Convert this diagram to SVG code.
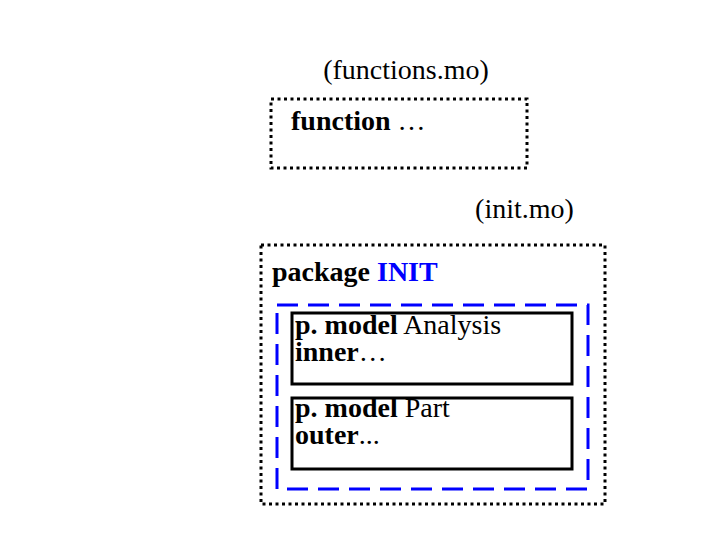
<svg xmlns="http://www.w3.org/2000/svg" width="720" height="540" viewBox="0 0 720 540">
<style>
text{font-family:"Liberation Serif","Times New Roman",serif;font-size:28px;fill:#000}
.b{font-weight:bold}
.blue{fill:#0000ff}
.dot{fill:none;stroke:#000;stroke-width:3;stroke-dasharray:3 3.5}
.dash{fill:none;stroke:#0000ff;stroke-width:3;stroke-dasharray:21 10}
.solid{fill:none;stroke:#000;stroke-width:3}
</style>
<rect width="720" height="540" fill="#fff"/>
<g id="functions">
<text x="406" y="79" text-anchor="middle">(functions.mo)</text>
<rect class="dot" x="271" y="99" width="256" height="69"/>
<text x="291" y="130"><tspan class="b">function</tspan> …</text>
</g>
<g id="init">
<text x="524.5" y="218" text-anchor="middle">(init.mo)</text>
<rect class="dot" x="261" y="245" width="344" height="259"/>
<text x="272" y="281"><tspan class="b">package</tspan> <tspan class="b blue">INIT</tspan></text>
</g>
<g id="group">
<rect class="dash" x="277" y="305" width="311" height="184"/>
</g>
<g id="analysis">
<rect class="solid" x="292" y="313" width="280" height="71"/>
<text x="295" y="334"><tspan class="b">p. model</tspan> Analysis</text>
<text x="295" y="361"><tspan class="b">inner</tspan>…</text>
</g>
<g id="part">
<rect class="solid" x="292" y="398" width="280" height="71"/>
<text x="295" y="417"><tspan class="b">p. model</tspan> Part</text>
<text x="295" y="444"><tspan class="b">outer</tspan>...</text>
</g>
<g id="connectors"/>
</svg>
